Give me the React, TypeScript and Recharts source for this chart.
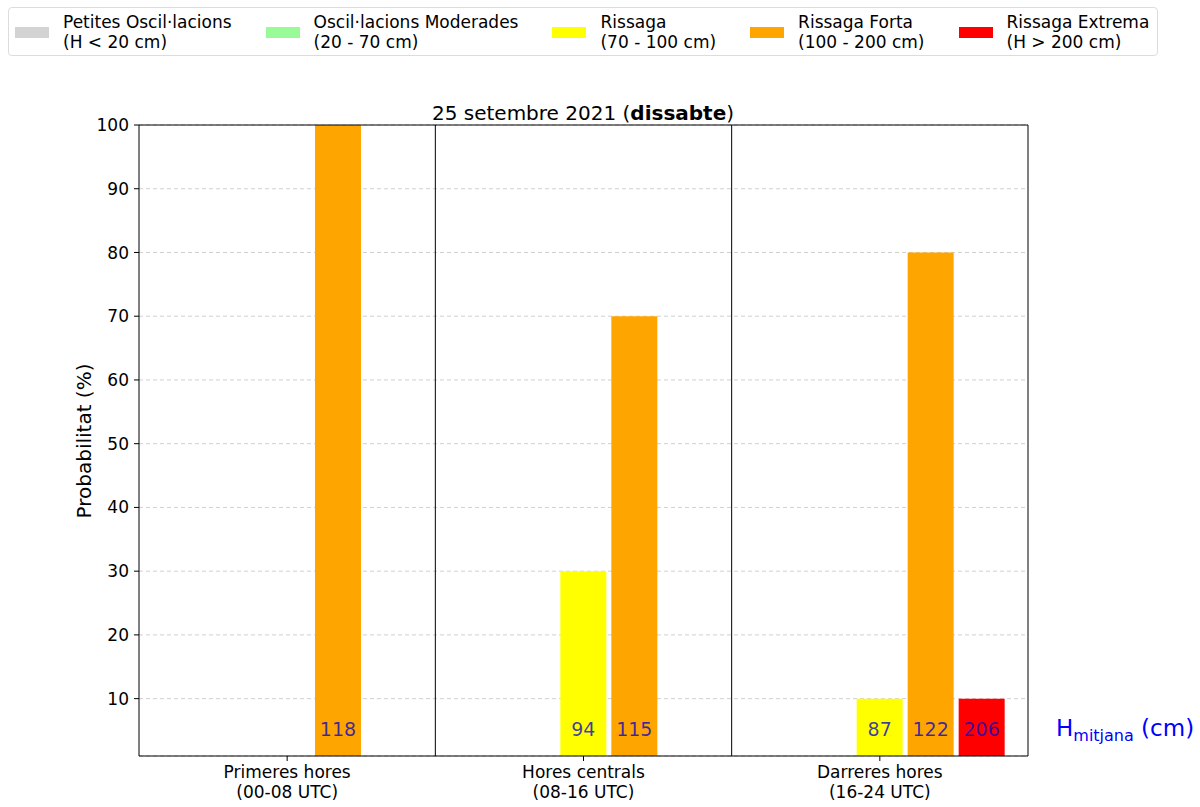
import { BarChart, Bar, XAxis, YAxis, CartesianGrid, ReferenceLine, LabelList } from "recharts";

const FONT = "'DejaVu Sans', sans-serif";

const periods = ["Primeres hores", "Hores centrals", "Darreres hores"];
const periodHours = ["(00-08 UTC)", "(08-16 UTC)", "(16-24 UTC)"];

// probabilitat (%) per categoria i franja
const petites = [null, null, null];
const moderades = [null, null, null];
const rissaga = [null, 30, 10];
const forta = [100, 70, 80];
const extrema = [null, null, 10];

// alçada mitjana (cm)
const hRissaga = [null, 94, 87];
const hForta = [118, 115, 122];
const hExtrema = [null, null, 206];

const yTicks = [10, 20, 30, 40, 50, 60, 70, 80, 90, 100];

const categories = [
    { key: "petites", name: "Petites Oscil·lacions", range: "(H < 20 cm)", color: "#d3d3d3" },
    { key: "moderades", name: "Oscil·lacions Moderades", range: "(20 - 70 cm)", color: "#98fb98" },
    { key: "rissaga", name: "Rissaga", range: "(70 - 100 cm)", color: "#ffff00" },
    { key: "forta", name: "Rissaga Forta", range: "(100 - 200 cm)", color: "#ffa500" },
    { key: "extrema", name: "Rissaga Extrema", range: "(H > 200 cm)", color: "#ff0000" },
];

const data = periods.map((p, i) => ({
    period: p,
    petites: petites[i],
    moderades: moderades[i],
    rissaga: rissaga[i],
    forta: forta[i],
    extrema: extrema[i],
    hPetites: null,
    hModerades: null,
    hRissaga: hRissaga[i],
    hForta: hForta[i],
    hExtrema: hExtrema[i],
}));

const hKeys: Record<string, string> = {
    petites: "hPetites",
    moderades: "hModerades",
    rissaga: "hRissaga",
    forta: "hForta",
    extrema: "hExtrema",
};

const PeriodTick = (props: any) => {
    const { x, y, payload } = props;
    const i = periods.indexOf(payload.value);
    return (
        <text x={x} y={y} textAnchor="middle" fontSize={17} fontFamily={FONT} fill="#000">
            <tspan x={x} dy={12}>{payload.value}</tspan>
            <tspan x={x} dy={19.5}>{periodHours[i]}</tspan>
        </text>
    );
};

const HLabel = (props: any) => {
    const { value } = props;
    if (value == null) return null;
    const vb = props.viewBox || {};
    const x = props.x ?? vb.x;
    const y = props.y ?? vb.y;
    const width = props.width ?? vb.width;
    const height = props.height ?? vb.height;
    return (
        <text
            x={x + width / 2}
            y={y + height - 27}
            textAnchor="middle"
            dominantBaseline="central"
            fontSize={19}
            fontFamily={FONT}
            fill="#0000cc"
            fillOpacity={0.75}
        >
            {value}
        </text>
    );
};

function Legend() {
    return (
        <div
            style={{
                position: "absolute",
                left: 8,
                top: 7,
                width: 1150,
                height: 49,
                boxSizing: "border-box",
                border: "1px solid #dcdcdc",
                borderRadius: 4,
                display: "flex",
                alignItems: "center",
                paddingLeft: 6,
                gap: 34,
                fontFamily: FONT,
                fontSize: 17,
                lineHeight: "20px",
                color: "#000",
            }}
        >
            {categories.map((c) => (
                <div key={c.key} style={{ display: "flex", alignItems: "center" }}>
                    <div style={{ width: 34, height: 11, background: c.color, marginRight: 14, marginTop: 2 }} />
                    <div style={{ whiteSpace: "nowrap" }}>
                        <div>{c.name}</div>
                        <div>{c.range}</div>
                    </div>
                </div>
            ))}
        </div>
    );
}

export default function App() {
    return (
        <div style={{ position: "absolute", left: 0, top: 0, width: 1200, height: 807, background: "#fff" }}>
            <BarChart
                width={1200}
                height={807}
                data={data}
                margin={{ top: 125, right: 172, left: 79, bottom: 1 }}
                barCategoryGap={23}
                barGap={5}
            >
                <CartesianGrid vertical={false} stroke="#d0d0d0" strokeDasharray="4 3" />
                <XAxis
                    dataKey="period"
                    height={50}
                    tick={<PeriodTick />}
                    tickSize={5}
                    tickMargin={5}
                    axisLine={{ stroke: "#000" }}
                    tickLine={{ stroke: "#000" }}
                    interval={0}
                />
                <YAxis
                    type="number"
                    domain={[1, 100]}
                    ticks={yTicks}
                    allowDataOverflow
                    width={60}
                    tickSize={5}
                    tickMargin={5}
                    tick={{ fill: "#000", fontSize: 17, fontFamily: FONT }}
                    axisLine={{ stroke: "#000" }}
                    tickLine={{ stroke: "#000" }}
                />
                {/* marc superior i dret */}
                <ReferenceLine y={100} stroke="#000" strokeWidth={1} />
                <ReferenceLine x={periods[2]} position="end" stroke="#000" strokeWidth={1} />
                {/* separadors de franges */}
                <ReferenceLine x={periods[1]} position="start" stroke="#000" strokeWidth={1} />
                <ReferenceLine x={periods[2]} position="start" stroke="#000" strokeWidth={1} />
                {categories.map((c) => (
                    <Bar key={c.key} dataKey={c.key} fill={c.color} isAnimationActive={false}>
                        <LabelList dataKey={hKeys[c.key]} content={HLabel} />
                    </Bar>
                ))}
            </BarChart>
            <svg
                width={1200}
                height={807}
                style={{ position: "absolute", left: 0, top: 0, pointerEvents: "none" }}
                fontFamily={FONT}
            >
                <text x={583} y={120} textAnchor="middle" fontSize={20} fill="#000">
                    25 setembre 2021 (<tspan fontWeight="bold">dissabte</tspan>)
                </text>
                <text
                    x={91}
                    y={441}
                    textAnchor="middle"
                    fontSize={20}
                    fill="#000"
                    transform="rotate(-90 91 441)"
                >
                    Probabilitat (%)
                </text>
                <text x={1056} y={736} fontSize={23} fill="#0000ff">
                    H<tspan fontSize={16} dy={5}>mitjana</tspan>
                    <tspan dy={-5}> (cm)</tspan>
                </text>
            </svg>
            <Legend />
        </div>
    );
}
